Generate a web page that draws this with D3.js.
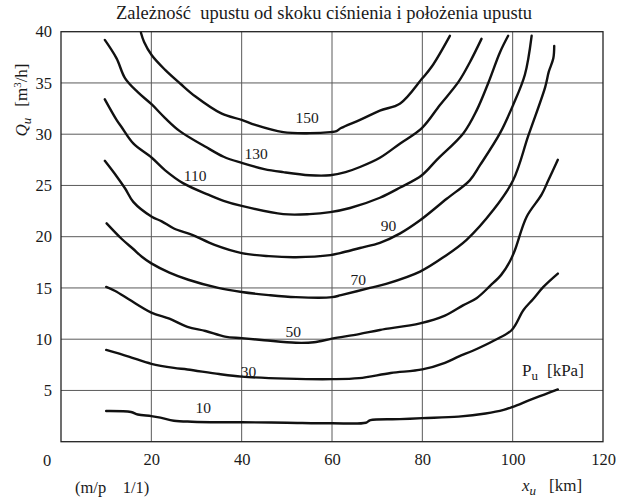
<!DOCTYPE html>
<html><head><meta charset="utf-8">
<script src="https://cdn.jsdelivr.net/npm/d3@7"></script>
<style>
html,body{margin:0;padding:0;background:#fff;}
text{font-family:"Liberation Serif","DejaVu Serif",serif;fill:#1a1a1a;}
</style>
</head><body>
<svg id="chart" width="622" height="498"></svg>
<script>
const title = "Zależność  upustu od skoku ciśnienia i położenia upustu";
const xTicks = [20, 40, 60, 80, 100, 120];
const yTicks = [5, 10, 15, 20, 25, 30, 35, 40];
const pressures = [10, 30, 50, 70, 90, 110, 130, 150];

const c10 = [[10,3.0],[15.5,2.9],[17,2.65],[20,2.5],[22,2.35],[25,2.05],[29,1.95],[35,1.9],[40,1.9],[50,1.85],[60,1.8],[67.5,1.85],[68.5,2.1],[75,2.2],[80,2.3],[88,2.45],[94,2.75],[98,3.1],[100,3.4],[104,4.1],[107,4.6],[110,5.1]];
const c30 = [[10,8.95],[15,8.3],[20,7.6],[25,7.2],[28,7.05],[35,6.6],[40,6.35],[50,6.15],[60,6.1],[66,6.2],[73,6.7],[80,7.05],[85,7.7],[88,8.3],[91.3,8.9],[96,9.9],[99.8,10.9],[102.4,12.85],[104.5,13.9],[106.8,15.1],[110,16.4]];
const c50 = [[10,15.1],[12,14.7],[15,13.9],[20,12.6],[24,12.0],[28,11.2],[32,10.8],[36.3,10.25],[40,10.1],[45,9.9],[52,9.65],[56,9.7],[60,10.05],[66,10.5],[70.6,10.9],[79.5,11.55],[85,12.3],[89,13.3],[92,14.0],[95,15.2],[97.5,16.3],[99.4,17.6],[100.5,18.7],[103.1,21.95],[106.4,24.1],[107.9,25.5],[110,27.5]];
const c70 = [[10.1,21.3],[13.4,19.8],[16,18.8],[17.9,18.05],[20,17.4],[24,16.5],[28.2,15.8],[34.8,15.0],[40,14.6],[46,14.3],[52,14.1],[60,14.1],[62,14.3],[68.4,15.0],[72,15.4],[79.5,16.6],[85,18.1],[89.8,19.7],[95.7,22.6],[100.1,25.5],[103.5,29.9],[107.2,34.6],[108,36.1],[109,37.4],[109.2,38.6]];
const c90 = [[9.7,27.4],[12.3,25.9],[14.2,24.7],[16,23.4],[20.1,21.95],[22.3,21.5],[25,20.8],[28.9,20.2],[34,19.2],[40,18.4],[46,18.1],[52,18.0],[59.6,18.2],[61.8,18.4],[66.2,18.9],[70.6,19.4],[75,20.3],[79.5,21.6],[85.4,23.7],[90.5,25.5],[92.8,27.0],[97.2,30.1],[100.1,32.85],[102.7,35.8],[104.2,39.6]];
const c110 = [[9.7,33.4],[12.3,31.4],[13.4,30.7],[16,29.1],[20.1,27.7],[23,26.5],[27.1,25.2],[32.6,24.1],[36,23.5],[40,23.0],[49.2,22.2],[55,22.2],[59.6,22.4],[64,22.8],[70.6,23.8],[75.1,24.8],[79.9,26.0],[83.2,27.5],[89.1,30.1],[92,32.3],[94.6,35.0],[97.2,38.0],[99.0,39.6]];
const c130 = [[9.7,39.2],[12.3,37.4],[14.2,35.45],[17,34.1],[20.1,32.9],[23,31.6],[26.3,30.3],[31.9,28.8],[36,27.8],[40,27.2],[45,26.6],[49.2,26.3],[55,26.0],[59.6,26.0],[63,26.3],[66.2,26.8],[70.6,27.7],[75.1,29.1],[79.9,30.6],[83.9,32.85],[88,35.1],[90.5,37.0],[93.1,39.3]];
const c150 = [[17.7,39.9],[18.4,39.0],[20.1,37.7],[23,36.3],[26.5,34.9],[29.7,33.7],[35.6,32.0],[40,31.4],[43,30.9],[49.2,30.2],[55,30.1],[59.6,30.2],[61,30.3],[62,30.6],[66.2,31.4],[70.6,32.3],[75.1,33.0],[79.9,35.4],[82.1,36.6],[86.1,39.6]];
const curves = [c10, c30, c50, c70, c90, c110, c130, c150];
// label anchor points (data units) for each curve's pressure label
const labelAt = [[31.5,3.3],[41.5,6.8],[51.4,10.7],[65.8,15.8],[72.5,21.05],[29.7,26.0],[43.2,28.1],[54.5,31.65]];

const svg = d3.select("#chart");
const W = 622, H = 498;
const m = {left: 61, right: 19, top: 31.7, bottom: 56.3};
const x = d3.scaleLinear().domain([0, 120]).range([m.left, W - m.right]);
const y = d3.scaleLinear().domain([0, 40]).range([H - m.bottom, m.top]);

// title
svg.append("text").attr("x", 324).attr("y", 19).attr("text-anchor", "middle")
  .style("font-size", "18.5px").style("white-space", "pre").text(title);

// grid
const g = svg.append("g");
g.selectAll(".vx").data(xTicks.filter(d => d < 120)).enter().append("line")
  .attr("x1", d => x(d)).attr("x2", d => x(d)).attr("y1", y(0)).attr("y2", y(40))
  .attr("stroke", "#5a5a5a").attr("stroke-width", 1);
g.selectAll(".hy").data(yTicks.filter(d => d < 40)).enter().append("line")
  .attr("x1", x(0)).attr("x2", x(120)).attr("y1", d => y(d)).attr("y2", d => y(d))
  .attr("stroke", "#5a5a5a").attr("stroke-width", 1);
g.append("rect").attr("x", x(0)).attr("y", y(40)).attr("width", x(120) - x(0)).attr("height", y(0) - y(40))
  .attr("fill", "none").attr("stroke", "#222").attr("stroke-width", 1.3);

// axes via d3 axis generators (labels only)
const xAxis = svg.append("g").attr("transform", `translate(0,${y(0)})`)
  .call(d3.axisBottom(x).tickValues(xTicks).tickSize(0).tickPadding(12));
xAxis.select(".domain").remove();
xAxis.selectAll("text").style("font-size", "16.5px").style("font-family", "Liberation Serif, serif").attr("fill", "#1a1a1a");
const yAxis = svg.append("g").attr("transform", `translate(${x(0)},0)`)
  .call(d3.axisLeft(y).tickValues(yTicks).tickSize(0).tickPadding(9));
yAxis.select(".domain").remove();
yAxis.selectAll("text").style("font-size", "16.5px").style("font-family", "Liberation Serif, serif").attr("fill", "#1a1a1a");
// shared origin label
svg.append("text").attr("x", 47).attr("y", y(0) + 24).attr("text-anchor", "middle")
  .style("font-size", "16.5px").text("0");

// curves
const line = d3.line().x(d => x(d[0])).y(d => y(d[1])).curve(d3.curveCatmullRom.alpha(0.5));
svg.append("g").selectAll("path").data(curves).enter().append("path")
  .attr("d", line).attr("fill", "none").attr("stroke", "#111").attr("stroke-width", 2.4)
  .attr("stroke-linejoin", "round").attr("stroke-linecap", "round");

// curve labels
const lab = svg.append("g").selectAll("g").data(pressures).enter().append("g")
  .attr("transform", (d, i) => `translate(${x(labelAt[i][0])},${y(labelAt[i][1])})`);
lab.append("text").attr("text-anchor", "middle").attr("dy", "0.35em")
  .style("font-size", "15.5px").text(d => d);

// P_u [kPa]
const pu = svg.append("text").attr("x", 522).attr("y", 376).style("font-size", "17px");
pu.append("tspan").text("P");
pu.append("tspan").attr("dy", 4).style("font-size", "13px").text("u");
pu.append("tspan").attr("dy", -4).attr("dx", 9).text("[kPa]");

// axis titles
const yt = svg.append("text").attr("transform", "translate(27,100) rotate(-90)")
  .attr("text-anchor", "middle").style("font-size", "17px");
yt.append("tspan").style("font-style", "italic").text("Q");
yt.append("tspan").style("font-style", "italic").style("font-size", "13px").attr("dy", 4).text("u");
yt.append("tspan").attr("dy", -4).attr("dx", 11).text("[m");
yt.append("tspan").style("font-size", "11px").attr("dy", -6).text("3");
yt.append("tspan").attr("dy", 6).text("/h]");

const xt = svg.append("text").attr("x", 522).attr("y", 491).style("font-size", "17px");
xt.append("tspan").style("font-style", "italic").text("x");
xt.append("tspan").style("font-style", "italic").style("font-size", "13px").attr("dy", 4).text("u");
xt.append("tspan").attr("dy", -4).attr("dx", 13).text("[km]");

svg.append("text").attr("x", 75).attr("y", 493).style("font-size", "16.5px").style("white-space", "pre")
  .text("(m/p    1/1)");
</script>
</body></html>
